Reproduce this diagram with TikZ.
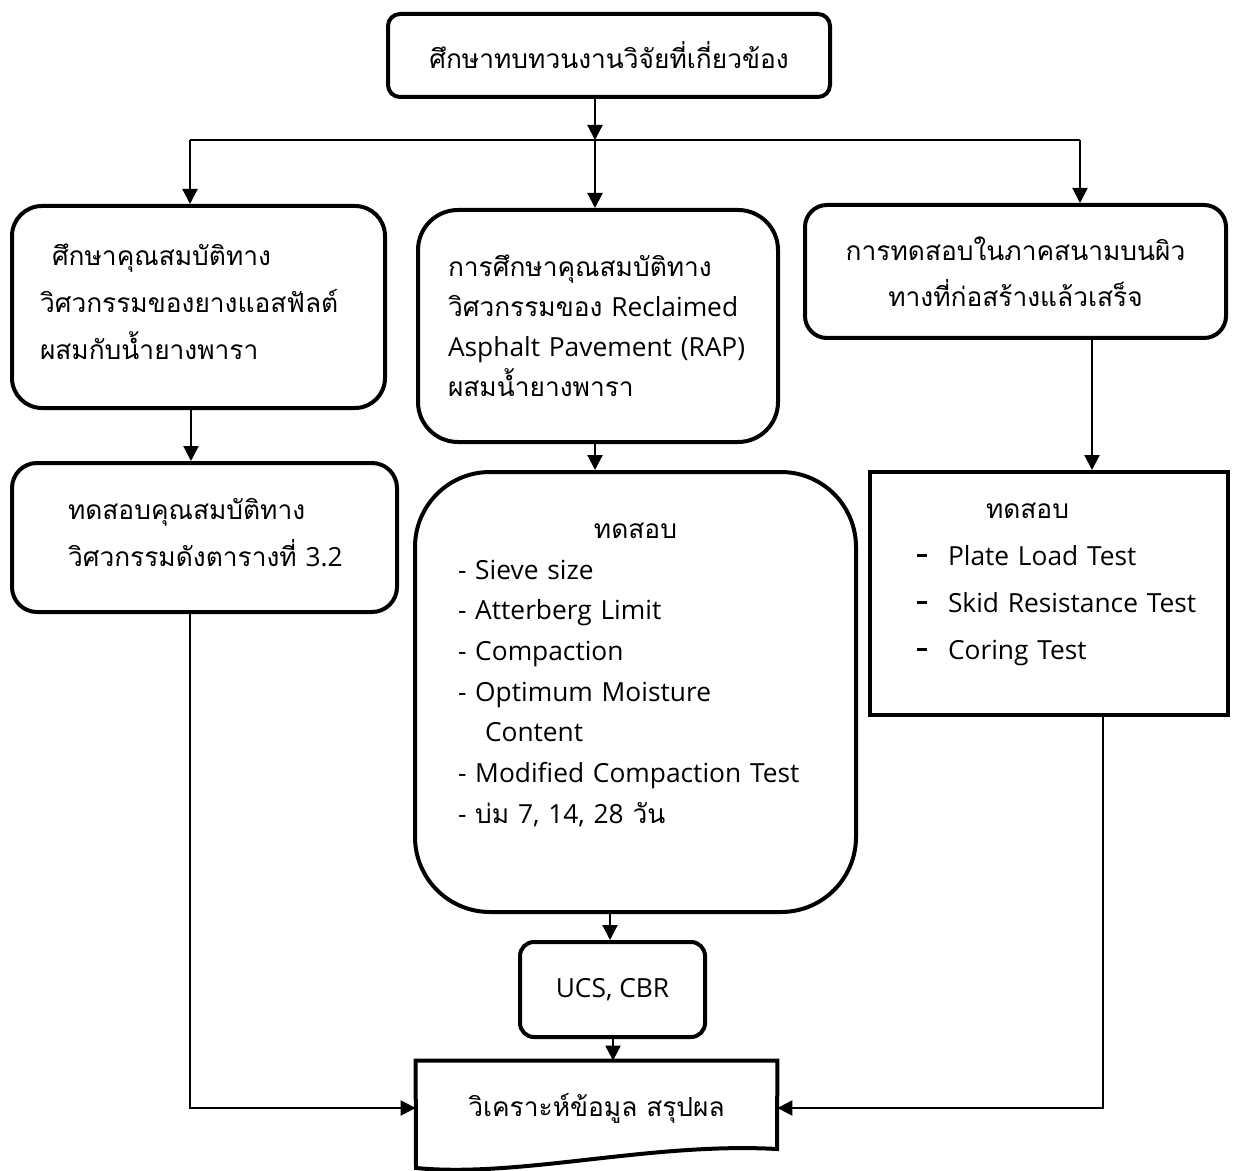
\documentclass[tikz,border=0pt]{standalone}
\usepackage{fontspec}
\setmainfont[Scale=0.94]{Open Sans}
\newfontfamily\thai[Script=Thai,Scale=0.94]{Loma}
\usetikzlibrary{arrows.meta}
\newcommand\T[1]{{\thai #1}}
\newcommand\dsh{\makebox[15.5pt][l]{\rule[0.32em]{5pt}{1.5pt}}}
\newcommand\lowstrut[1]{\rule[-#1]{0pt}{1pt}}
\begin{document}
\begin{tikzpicture}[x=0.5pt,y=-0.5pt,
  box/.style={draw, line width=2pt, inner sep=0pt, align=center},
  conn/.style={line width=1.1pt},
  arr/.style={conn, -{Triangle[length=7.5pt,width=7.5pt]}},
  fs/.style={font=\fontsize{14}{#1}\selectfont}
]
\useasboundingbox (0,0) rectangle (1241,1171);
\fill[white] (0,0) rectangle (1241,1171);

\node[box, fs=23pt, rounded corners=6pt, minimum width=221pt, minimum height=41.5pt] (b0) at (609,55.5)
  {\T{ศึกษาทบทวนงานวิจัยที่เกี่ยวข้อง}};

\node[box, fs=23.5pt, rounded corners=15pt, minimum width=186.5pt, minimum height=101pt,
  text width=158.5pt, inner xsep=14pt, align=left] (b1) at (198.5,307)
  {\mbox{\hspace*{6pt}\T{ศึกษาคุณสมบัติทาง}}\\ \mbox{\T{วิศวกรรมของยางแอสฟัลต์}}\\ \mbox{\T{ผสมกับน้ำยางพารา}\lowstrut{5pt}}};

\node[box, fs=20pt, rounded corners=20pt, minimum width=180pt, minimum height=116pt,
  text width=150pt, inner xsep=15pt, align=left] (b2) at (598,326)
  {\mbox{\T{การศึกษาคุณสมบัติทาง}}\\ \mbox{\T{วิศวกรรมของ} Reclaimed}\\ \mbox{Asphalt Pavement (RAP)}\\ \mbox{\T{ผสมน้ำยางพารา}}};

\node[box, fs=23pt, rounded corners=11pt, minimum width=210.5pt, minimum height=66.5pt] (b3) at (1015.5,271.5)
  {\T{การทดสอบในภาคสนามบนผิว}\\ \T{ทางที่ก่อสร้างแล้วเสร็จ}};

\node[box, fs=23.5pt, rounded corners=12.5pt, minimum width=192.5pt, minimum height=74.5pt,
  text width=136.5pt, inner xsep=28pt, align=left] (b4) at (204.5,537.5)
  {\mbox{\T{ทดสอบคุณสมบัติทาง}}\\ \mbox{\T{วิศวกรรมดังตารางที่} 3.2\lowstrut{5pt}}};

\node[box, fs=20.35pt, rounded corners=37.5pt, minimum width=220.5pt, minimum height=220pt,
  text width=177.5pt, inner xsep=21.5pt, align=left] (b5) at (635.5,692)
  {\makebox[177.5pt]{\T{ทดสอบ}}\\
   \mbox{- Sieve size}\\
   \mbox{- Atterberg Limit}\\
   \mbox{- Compaction}\\
   \mbox{- Optimum Moisture}\\
   \mbox{\hspace*{13.5pt}Content}\\
   \mbox{- Modified Compaction Test}\\
   \mbox{- \T{บ่ม} 7, 14, 28 \T{วัน}\lowstrut{19pt}}};

\node[box, fs=23.5pt, minimum width=179pt, minimum height=121.5pt,
  text width=132pt, inner xsep=23.5pt, align=left] (b6) at (1049,593.5)
  {\mbox{\hspace*{34.5pt}\T{ทดสอบ}}\\
   \mbox{\dsh Plate Load Test}\\
   \mbox{\dsh Skid Resistance Test}\\
   \mbox{\dsh Coring Test\lowstrut{12pt}}};

\node[box, fs=20pt, rounded corners=7pt, minimum width=92.5pt, minimum height=47.5pt] (b7) at (612.5,989.5)
  {UCS, CBR};

\node[inner sep=0pt, fs=20pt, minimum width=180.5pt, minimum height=47pt] (b8) at (596.5,1108)
  {\T{วิเคราะห์ข้อมูล สรุปผล}};
\draw[line width=2pt, line join=miter] (b8.north west) -- (b8.north east) -- (777,1149)
  .. controls (650,1142) and (520,1178) .. (416,1168) -- cycle;

\coordinate (j) at (595,140);
\coordinate (jl) at (190,140);
\coordinate (jr) at (1080,140);
\coordinate (c1) at (191,0);
\coordinate (c3) at (1092,0);
\coordinate (c4) at (190,0);
\coordinate (c5) at (610,0);
\coordinate (c6) at (1103,0);
\coordinate (c7) at (613,0);

\draw[arr] (b0.south -| j) -- (j);
\draw[conn] (jl) -- (jr);
\draw[arr] (jl) -- (b1.north -| jl);
\draw[arr] (j) -- (b2.north -| j);
\draw[arr] (jr) -- (b3.north -| jr);
\draw[arr] (b1.south -| c1) -- (b4.north -| c1);
\draw[arr] (b2.south -| j) -- (b5.north -| j);
\draw[arr] (b3.south -| c3) -- (b6.north -| c3);
\draw[arr] (b5.south -| c5) -- (b7.north -| c5);
\draw[arr] (b7.south -| c7) -- (b8.north -| c7);
\draw[arr] (b4.south -| c4) |- (b8.west);
\draw[arr] (b6.south -| c6) |- (b8.east);
\end{tikzpicture}
\end{document}
